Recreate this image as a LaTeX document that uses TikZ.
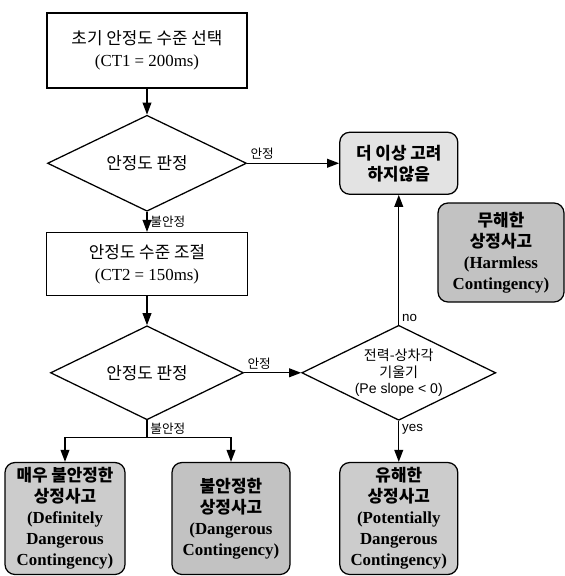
\documentclass[tikz,border=0pt]{standalone}
\usepackage{fontspec}
\setmainfont{Liberation Serif}
\newfontfamily\krfont{Noto Sans CJK KR}
\newfontfamily\arialfont{Liberation Sans}
\newcommand\tightlines{\lineskiplimit=-10pt\lineskip=0pt\relax}
\usetikzlibrary{shapes.geometric, arrows.meta, positioning}

\begin{document}
\begin{tikzpicture}[
  process/.style={rectangle, draw, line width=0.9pt, align=center, font={\fontsize{12}{15.5}\selectfont\tightlines}},
  decision/.style={diamond, draw, line width=0.9pt, aspect=2, inner sep=0pt, align=center, font={\krfont\fontsize{12}{14}\selectfont}},
  outcome/.style={rectangle, rounded corners=0.25cm, draw, line width=0.9pt, inner sep=1pt, align=center, font={\bfseries\fontsize{12}{15}\selectfont\tightlines}},
  arrow/.style={-{Triangle[length=3mm, width=2.2mm]}, line width=0.9pt},
  branchtext/.style={font={\krfont\fontsize{9}{10}\selectfont}, inner sep=2pt},
  answertext/.style={font={\arialfont\fontsize{9.5}{10}\selectfont}, inner sep=2pt}
]

\useasboundingbox (0,0) rectangle (14.125,-14.4);

% Main column
\node[process, minimum width=5cm, minimum height=1.875cm] (init) at (3.675,-1.2625)
  {{\krfont 초기 안정도 수준 선택}\\(CT1 = 200ms)};
\node[decision, minimum width=4.975cm, minimum height=2.4cm, below=0.65cm of init] (dec1) {안정도 판정};
\node[process, minimum width=5.025cm, minimum height=1.575cm, below=0.5cm of dec1] (adjust)
  {{\krfont 안정도 수준 조절}\\(CT2 = 150ms)};
\node[decision, minimum width=4.825cm, minimum height=2.35cm, below=0.725cm of adjust] (dec2) {안정도 판정};
\node[decision, minimum width=4.85cm, minimum height=2.375cm, inner sep=-4pt, right=1.425cm of dec2,
  font={\krfont\fontsize{10}{11.5}\selectfont\tightlines}] (dec3)
  {전력-상차각\\기울기\\{\arialfont (Pe slope < 0)}};

% Outcomes
\node[outcome, fill=gray!22, minimum width=2.95cm, minimum height=1.55cm] (stop) at (dec3 |- dec1)
  {{\krfont 더 이상 고려}\\{\krfont 하지않음}};
\node[outcome, fill=gray!48, minimum width=3.15cm, minimum height=2.475cm] (harmless) at (12.525,-6.3125)
  {{\krfont 무해한}\\{\krfont 상정사고}\\(Harmless\\Contingency)};
\node[outcome, fill=gray!40, minimum width=3cm, minimum height=2.8cm] (definite) at (1.625,-12.9625)
  {{\krfont 매우 불안정한}\\{\krfont 상정사고}\\(Definitely\\Dangerous\\Contingency)};
\node[outcome, fill=gray!48, minimum width=2.95cm, minimum height=2.8cm] (dangerous) at (5.775,-12.9625)
  {{\krfont 불안정한}\\{\krfont 상정사고}\\(Dangerous\\Contingency)};
\node[outcome, fill=gray!40, minimum width=2.95cm, minimum height=2.8cm] (potential) at (dec3 |- definite)
  {{\krfont 유해한}\\{\krfont 상정사고}\\(Potentially\\Dangerous\\Contingency)};

% Connectors
\draw[arrow] (init) -- (dec1);
\draw[arrow] (dec1) -- (adjust) node[branchtext, midway, right] {불안정};
\draw[arrow] (dec1) -- (stop) node[branchtext, pos=0, above right] {안정};
\draw[arrow] (adjust) -- (dec2);
\draw[arrow] (dec2) -- (dec3) node[branchtext, pos=0, above right] {안정};
\draw[arrow] (dec3) -- (stop) node[answertext, pos=0, above right] {no};
\draw[arrow] (dec3) -- (potential) node[answertext, pos=0, below right] {yes};
\path (dec2.south) ++(0,-0.425) coordinate (split);
\draw[line width=0.9pt] (dec2) -- (split) node[branchtext, midway, right] {불안정};
\draw[arrow] (split) -| (definite);
\draw[arrow] (split) -| (dangerous);

\end{tikzpicture}
\end{document}
